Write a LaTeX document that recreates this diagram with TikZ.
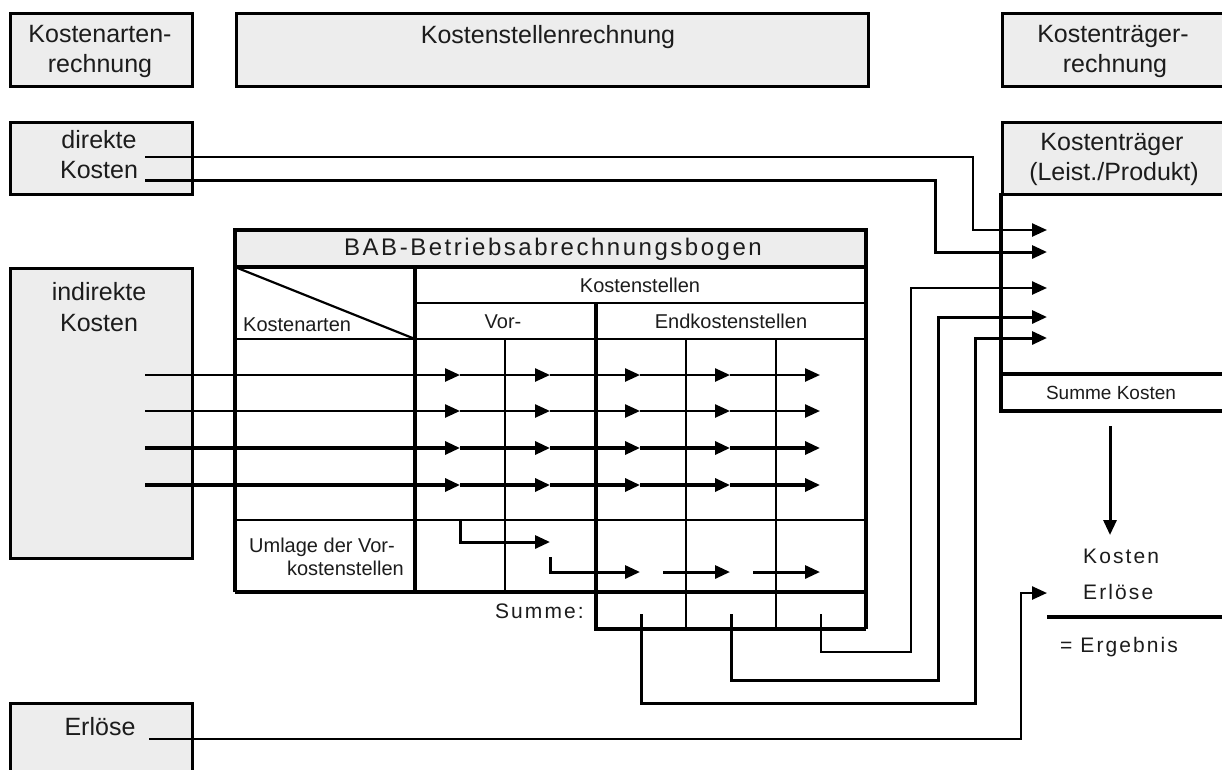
\documentclass[tikz,border=0pt]{standalone}
\usepackage{fontspec}
\setmainfont{Liberation Sans}
\usetikzlibrary{arrows.meta}

\definecolor{boxgray}{RGB}{237,237,237}
\definecolor{ink}{RGB}{28,28,28}

\newcommand\fsbig{\fontsize{25}{30}\selectfont}
\newcommand\fssmall{\fontsize{20}{24}\selectfont}
\newcommand\fsspaced{\fontsize{21}{25}\selectfont\addfontfeature{LetterSpace=10}}
\newcommand\fstitle{\fontsize{24}{28}\selectfont\addfontfeature{LetterSpace=10.5}}

\begin{document}
\begin{tikzpicture}[x=1pt, y=-1pt,
  box/.style={draw=black, line width=3.3pt, fill=boxgray, inner sep=0pt, anchor=north west},
  lbl/.style={anchor=base, inner sep=0pt, text=ink, font=\fsbig},
  slbl/.style={anchor=base, inner sep=0pt, text=ink, font=\fssmall},
  grid/.style={line width=2.6pt},
  frame/.style={line width=3.2pt},
  flow/.style={line width=3pt, line join=miter},
  thinflow/.style={line width=2.5pt, line join=miter},
  tip/.style={-{Triangle[length=15pt,width=13pt]}}]

\useasboundingbox (0,0) rectangle (1222,769);
\fill[white] (0,0) rectangle (1222,769);

% ---- header boxes ----
\node[box, minimum width=182pt, minimum height=73pt] (kar) at (9,12) {};
\node[box, minimum width=632pt, minimum height=73pt] (ksr) at (235,12) {};
\node[box, minimum width=221pt, minimum height=73pt] (ktr) at (1001,12) {};
\node[lbl] (kar1) at (100,42) {Kostenarten-};
\node[lbl] (kar2) at (100,72) {rechnung};
\node[lbl] (ksr1) at (548,43) {Kostenstellenrechnung};
\node[lbl] (ktr1) at (1113,42) {Kostenträger-};
\node[lbl] (ktr2) at (1115,72) {rechnung};

% ---- cost sources ----
\node[box, minimum width=182pt, minimum height=72pt] (dk) at (9,121) {};
\node[lbl] (dk1) at (99,148) {direkte};
\node[lbl] (dk2) at (99,178) {Kosten};

\node[box, minimum width=182pt, minimum height=290pt] (ik) at (9,267) {};
\node[lbl] (ik1) at (99,300) {indirekte};
\node[lbl] (ik2) at (99,331) {Kosten};

\node[box, minimum width=182pt, minimum height=100pt] (erl) at (9,702) {};
\node[lbl] (erl1) at (100,735) {Erlöse};

% ---- cost unit block ----
\draw[frame] (1222,374) -- (1001,374) -- (1001,411) -- (1222,411);
\draw[frame] (1001,193) -- (1001,374);
\node[box, minimum width=221pt, minimum height=72pt] (kt) at (1001,121) {};
\node[lbl] (kt1) at (1112,150) {Kostenträger};
\node[lbl] (kt2) at (1114,180) {(Leist./Produkt)};
\node[slbl, font=\fontsize{19}{23}\selectfont] (sk) at (1111,399) {Summe Kosten};

% ---- BAB table ----
\fill[boxgray] (235,230) rectangle (866,267);
\draw[grid] (415,303) -- (866,303);
\draw[grid] (235,339) -- (866,339);
\draw[grid] (235,520) -- (866,520);
\draw[grid] (505,339) -- (505,592);
\draw[grid] (686,339) -- (686,629);
\draw[grid] (776,339) -- (776,629);
\draw[frame] (235,267) -- (866,267);
\draw[frame] (415,267) -- (415,592);
\draw[frame] (596,303) -- (596,629) -- (866,629);
\draw[frame] (235,592) -- (866,592);
\draw[frame] (235,592) -- (235,230) -- (866,230) -- (866,629);
\draw[line width=2.2pt] (235,267) -- (415,339);

\node[anchor=base, inner sep=0pt, text=ink, font=\fstitle] (bab) at (553,255) {BAB-Betriebsabrechnungsbogen};
\node[slbl] (kst) at (640,292) {Kostenstellen};
\node[slbl] (vor) at (503,328) {Vor-};
\node[slbl] (end) at (731,328) {Endkostenstellen};
\node[slbl, anchor=base west] (kart) at (243,331) {Kostenarten};
\node[slbl, anchor=base west] (uml1) at (249,552) {Umlage der Vor-};
\node[slbl, anchor=base east] (uml2) at (404,575) {kostenstellen};
\node[anchor=base east, inner sep=0pt, text=ink, font=\fsspaced] (sum) at (584,618) {Summe:};

% column centres and row levels of the allocation flows
\foreach \c/\x in {1/460,2/550,3/640,4/730,5/820}{
  \foreach \r/\y in {1/375,2/411,3/448,4/485}{
    \coordinate (p\r-\c) at (\x,\y);
  }
}
\foreach \r/\y in {1/375,2/411,3/448,4/485}{
  \coordinate (s\r) at (145,\y);
}
\foreach \r/\w in {1/2.5pt,2/2.5pt,3/3.2pt,4/3.2pt}{
  \draw[tip, line width=\w] (s\r) -- (p\r-1);
  \draw[tip, line width=\w] (p\r-1) -- (p\r-2);
  \draw[tip, line width=\w] (p\r-2) -- (p\r-3);
  \draw[tip, line width=\w] (p\r-3) -- (p\r-4);
  \draw[tip, line width=\w] (p\r-4) -- (p\r-5);
}

% allocation of the auxiliary cost centres
\coordinate (u0) at (460,520);
\coordinate (u1) at (460,542);
\coordinate (u2) at (550,542);
\coordinate (v0) at (550,557);
\coordinate (v1) at (550,572);
\coordinate (v2) at (640,572);
\coordinate (w1) at (663,572);
\coordinate (w2) at (730,572);
\coordinate (z1) at (753,572);
\coordinate (z2) at (820,572);
\draw[flow, tip] (u0) -- (u1) -- (u2);
\draw[flow, tip] (v0) -- (v1) -- (v2);
\draw[flow, tip] (w1) -- (w2);
\draw[flow, tip] (z1) -- (z2);

% direct costs to the cost units
\coordinate (d1) at (145,157);
\coordinate (d2) at (145,180);
\draw[thinflow, tip] (d1) -- (973,157) -- (973,230) -- (1047,230);
\draw[flow, tip] (d2) -- (935,180) -- (935,252) -- (1047,252);

% totals of the final cost centres to the cost units
\coordinate (e3) at (821,614);
\coordinate (e2) at (731,614);
\coordinate (e1) at (641,614);
\draw[thinflow, tip] (e3) -- (821,652) -- (911,652) -- (911,288) -- (1047,288);
\draw[flow, tip] (e2) -- (731,680) -- (938,680) -- (938,317) -- (1047,317);
\draw[flow, tip] (e1) -- (641,703) -- (975,703) -- (975,338) -- (1047,338);

% revenues
\coordinate (r0) at (149,739);
\draw[thinflow, tip] (r0) -- (1021,739) -- (1021,593) -- (1047,593);

% result
\coordinate (sk0) at (1110,426);
\coordinate (sk1) at (1110,535);
\draw[flow, tip] (sk0) -- (sk1);
\node[anchor=base west, inner sep=0pt, text=ink, font=\fsspaced] (rk) at (1083,563) {Kosten};
\node[anchor=base west, inner sep=0pt, text=ink, font=\fsspaced] (re) at (1083,599) {Erlöse};
\coordinate (ra) at (1047,617);
\coordinate (rb) at (1222,617);
\draw[frame] (ra) -- (rb);
\node[anchor=base west, inner sep=0pt, text=ink, font=\fsspaced] (rg) at (1060,652) {= Ergebnis};
\end{tikzpicture}
\end{document}
